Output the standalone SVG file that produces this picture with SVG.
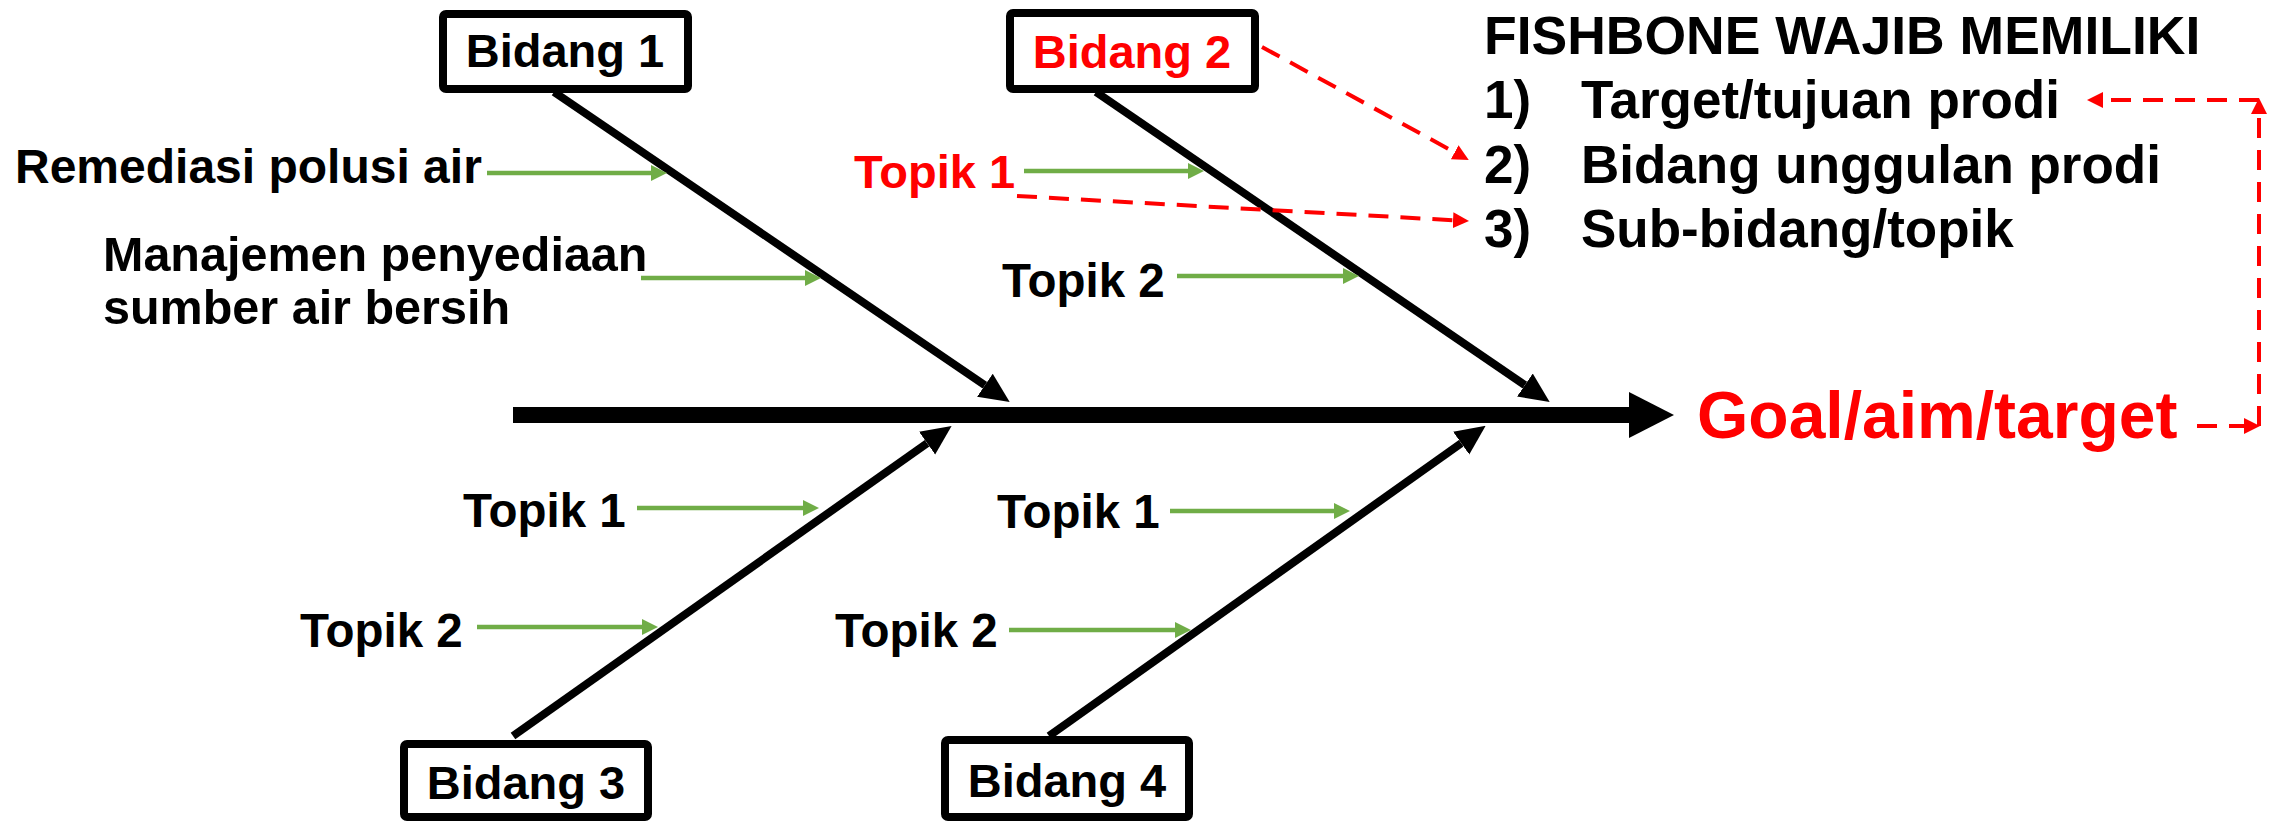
<svg xmlns="http://www.w3.org/2000/svg" width="2285" height="822" viewBox="0 0 2285 822">
<style>
text{font-family:"Liberation Sans",Arial,sans-serif;font-weight:bold;}
.t{font-size:47px;fill:#000;}
.lbl{font-size:47.5px;fill:#000;}
.red{fill:#FF0000;}
.list{font-size:53px;fill:#000;}
.box{fill:#fff;stroke:#000;stroke-width:8;}
.bone{stroke:#000;stroke-width:8;fill:none;}
.g{stroke:#70AD47;stroke-width:4.5;fill:none;}
.rd{stroke:#FF0000;stroke-width:4;fill:none;stroke-dasharray:20 12;}
</style>
<defs>
<marker id="ab" markerUnits="userSpaceOnUse" markerWidth="30" markerHeight="30" refX="0" refY="13" orient="auto" viewBox="0 0 28 26"><path d="M0,0 L28,13 L0,26 Z" fill="#000"/></marker>
<marker id="ag" markerUnits="userSpaceOnUse" markerWidth="16" markerHeight="16" refX="0" refY="7" orient="auto" viewBox="0 0 14 14"><path d="M0,0 L14,7 L0,14 Z" fill="#70AD47"/></marker>
<marker id="ar" markerUnits="userSpaceOnUse" markerWidth="16" markerHeight="16" refX="0" refY="7" orient="auto" viewBox="0 0 14 14"><path d="M0,0 L14,7 L0,14 Z" fill="#FF0000"/></marker>
</defs>
<rect width="2285" height="822" fill="#fff"/>
<g id="connectors">
<rect x="513" y="407" width="1117" height="16" fill="#000"/>
<polygon points="1629,392 1674,415 1629,438" fill="#000"/>
<line class="bone" x1="554" y1="92" x2="984.9" y2="385.2" marker-end="url(#ab)"/>
<line class="bone" x1="1096" y1="92" x2="1524.9" y2="385.1" marker-end="url(#ab)"/>
<line class="bone" x1="513" y1="736" x2="927.1" y2="443.2" marker-end="url(#ab)"/>
<line class="bone" x1="1049" y1="736" x2="1461.2" y2="443.2" marker-end="url(#ab)"/>
<line class="g" x1="487" y1="173" x2="651" y2="173" marker-end="url(#ag)"/>
<line class="g" x1="641" y1="278" x2="805" y2="278" marker-end="url(#ag)"/>
<line class="g" x1="1024" y1="171" x2="1188" y2="171" marker-end="url(#ag)"/>
<line class="g" x1="1177" y1="276" x2="1343" y2="276" marker-end="url(#ag)"/>
<line class="g" x1="637" y1="508" x2="803" y2="508" marker-end="url(#ag)"/>
<line class="g" x1="477" y1="627" x2="642" y2="627" marker-end="url(#ag)"/>
<line class="g" x1="1170" y1="511" x2="1334" y2="511" marker-end="url(#ag)"/>
<line class="g" x1="1009" y1="630" x2="1175" y2="630" marker-end="url(#ag)"/>
<line class="rd" x1="1262" y1="47" x2="1454.7" y2="152.3" marker-end="url(#ar)"/>
<line class="rd" x1="1017" y1="196" x2="1453" y2="220.2" marker-end="url(#ar)"/>
<line class="rd" x1="2197" y1="426" x2="2244" y2="426" marker-end="url(#ar)"/>
<line class="rd" x1="2259" y1="426" x2="2259" y2="114" marker-end="url(#ar)"/>
<line class="rd" x1="2259" y1="100" x2="2103" y2="100" marker-end="url(#ar)"/>
</g>
<g id="bidang1"><rect class="box" x="443" y="14" width="245" height="75" rx="3"/><text class="t" x="565" y="67" text-anchor="middle">Bidang 1</text></g>
<g id="bidang2"><rect class="box" x="1010" y="13" width="245" height="76" rx="3"/><text class="t red" x="1132" y="68" text-anchor="middle">Bidang 2</text></g>
<g id="bidang3"><rect class="box" x="404" y="744" width="244" height="73" rx="3"/><text class="t" x="526" y="799" text-anchor="middle">Bidang 3</text></g>
<g id="bidang4"><rect class="box" x="945" y="740" width="244" height="77" rx="3"/><text class="t" x="1067" y="797" text-anchor="middle">Bidang 4</text></g>
<g id="topics">
<text x="15" y="183" style="font-size:48px">Remediasi polusi air</text>
<text x="103" y="271" style="font-size:48.5px">Manajemen penyediaan</text>
<text x="103" y="324" style="font-size:48.5px">sumber air bersih</text>
<text class="red" x="854" y="188" style="font-size:47px">Topik 1</text>
<text class="lbl" x="1002" y="297">Topik 2</text>
<text class="lbl" x="463" y="527">Topik 1</text>
<text class="lbl" x="300" y="647">Topik 2</text>
<text class="lbl" x="997" y="528">Topik 1</text>
<text class="lbl" x="835" y="647">Topik 2</text>
</g>
<g id="goal"><text x="1697" y="438" style="font-size:66px;fill:#FF0000">Goal/aim/target</text></g>
<g id="legend">
<text x="1484" y="54" style="font-size:53.5px">FISHBONE WAJIB MEMILIKI</text>
<text class="list" x="1484" y="118">1)</text><text class="list" x="1581" y="118">Target/tujuan prodi</text>
<text class="list" x="1484" y="183">2)</text><text class="list" x="1581" y="183">Bidang unggulan prodi</text>
<text class="list" x="1484" y="247">3)</text><text class="list" x="1581" y="247">Sub-bidang/topik</text>
</g>
</svg>
